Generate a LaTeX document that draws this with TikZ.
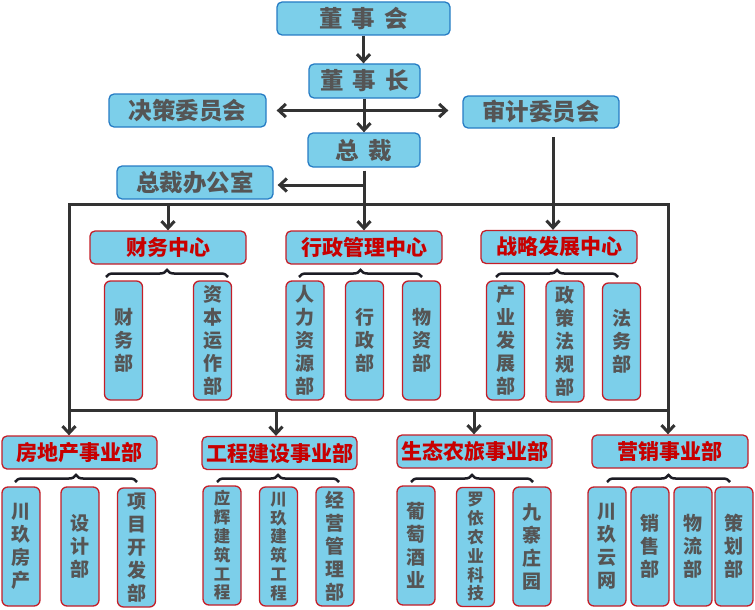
\documentclass[tikz,border=0pt]{standalone}
\usepackage{fontspec}
\newfontfamily\cjk{Noto Sans CJK SC}
\usetikzlibrary{arrows.meta,decorations.pathreplacing}
\definecolor{boxfill}{RGB}{124,207,234}
\definecolor{blueedge}{RGB}{38,124,196}
\definecolor{rededge}{RGB}{196,30,40}
\definecolor{redtext}{RGB}{200,0,0}
\definecolor{graytext}{RGB}{85,85,85}
\definecolor{linecol}{RGB}{51,51,51}
\definecolor{bracecol}{RGB}{28,28,36}
\begin{document}
\begin{tikzpicture}[x=1pt,y=-1pt,
  topbox/.style={draw=blueedge, fill=boxfill, line width=1.3pt, rounded corners=5pt,
    inner sep=0pt, text=graytext, minimum width=156pt, minimum height=33pt,
    font=\cjk\bfseries\fontsize{23.5}{26}\selectfont},
  hdr/.style={draw=rededge, fill=boxfill, line width=1.3pt, rounded corners=5pt,
    inner sep=0pt, text=redtext, minimum width=156pt, minimum height=33pt,
    font=\cjk\bfseries\fontsize{21}{24}\selectfont},
  vbox/.style={draw=rededge, fill=boxfill, line width=1.3pt, rounded corners=6pt,
    inner sep=0pt, text=graytext, minimum width=38pt, minimum height=119pt, align=center,
    font=\cjk\bfseries\fontsize{19}{23}\selectfont},
  vsmall/.style={vbox, font=\cjk\bfseries\fontsize{16.5}{18.8}\selectfont},
  conn/.style={draw=linecol, line width=3pt},
  arr/.style={conn, -{Straight Barb[length=7pt,width=13pt]}},
  arrboth/.style={conn, {Straight Barb[length=7pt,width=13pt]}-{Straight Barb[length=7pt,width=13pt]}},
  bracestyle/.style={draw=bracecol, line width=2.5pt, decorate,
    decoration={brace, amplitude=7pt}}
]
\useasboundingbox (0,0) rectangle (755,610);

% top level
\node[topbox, minimum width=173pt] (dsh) at (363.5,18.5) {董\hspace{9pt}事\hspace{9pt}会};
\node[topbox, minimum width=111pt, minimum height=34pt] (dsz) at (364.5,81) {董\hspace{9pt}事\hspace{9pt}长};
\node[topbox, minimum width=157pt] (jc) at (187.5,110.5) {决策委员会};
\node[topbox, minimum height=32pt] (sj) at (541,112) {审计委员会};
\node[topbox, minimum width=112pt, minimum height=34pt] (zc) at (364,150) {总\hspace{10pt}裁};
\node[topbox] (zcb) at (195,182.5) {总裁办公室};

% centre headers
\node[hdr] (cw) at (168,247.5) {财务中心};
\node[hdr] (xz) at (364,247.5) {行政管理中心};
\node[hdr] (zl) at (559,247) {战略发展中心};

% business headers
\node[hdr, minimum width=155pt] (fd) at (79.5,452.5) {房地产事业部};
\node[hdr, minimum width=155pt] (gc) at (279.5,453) {工程建设事业部};
\node[hdr, minimum width=155pt] (st) at (474.5,451.5) {生态农旅事业部};
\node[hdr] (yx) at (670,451.5) {营销事业部};

% centre departments
\node[vbox] (cwb) at (123.5,340.5) {财\\务\\部};
\node[vbox] (zbyz) at (212.5,340.5) {资\\本\\运\\作\\部};
\node[vbox] (rlzy) at (305,340.5) {人\\力\\资\\源\\部};
\node[vbox] (xzb) at (364.5,340.5) {行\\政\\部};
\node[vbox] (wzb) at (421.5,340.5) {物\\资\\部};
\node[vbox] (cyfz) at (505.5,340.5) {产\\业\\发\\展\\部};
\node[vbox, minimum height=121pt] (zcfg) at (565,341.5) {政\\策\\法\\规\\部};
\node[vbox, minimum height=117pt] (fwb) at (621.5,341.5) {法\\务\\部};

% business departments
\node[vbox] (cjfc) at (21,546.5) {川\\玖\\房\\产};
\node[vbox] (sjb) at (80,546.5) {设\\计\\部};
\node[vbox] (xmkf) at (136.5,547.5) {项\\目\\开\\发\\部};
\node[vsmall] (yhjz) at (222,545.5) {应\\辉\\建\\筑\\工\\程};
\node[vsmall] (cjjz) at (278.5,546.5) {川\\玖\\建\\筑\\工\\程};
\node[vbox] (jygl) at (335,546.5) {经\\营\\管\\理\\部};
\node[vbox] (ptjy) at (416,545.5) {葡\\萄\\酒\\业};
\node[vsmall] (lynk) at (475.5,547) {罗\\依\\农\\业\\科\\技};
\node[vbox] (jzzy) at (532,546.5) {九\\寨\\庄\\园};
\node[vbox] (cjyw) at (607,546.5) {川\\玖\\云\\网};
\node[vbox] (xsb) at (650,546.5) {销\\售\\部};
\node[vbox] (wlb) at (693,546.5) {物\\流\\部};
\node[vbox] (chb) at (734,546.5) {策\\划\\部};

% frame corners and branch points
\coordinate (rTL) at (69,204);
\coordinate (rTR) at (668,204);
\coordinate (rBL) at (69,410);
\coordinate (rBR) at (668,410);
\coordinate (bOff) at (364,185);
\coordinate (aud) at (553,137);
\coordinate (g1) at (276,410);
\coordinate (g2) at (474,410);

% connectors
\draw[arr] (dsh.south) -- (dsh.south |- dsz.north);
\draw[arr] (zc.north |- dsz.south) -- (zc.north);
\draw[arrboth, shorten <=10pt, shorten >=14pt] (jc.east) -- (jc.east -| sj.west);
\draw[arr, shorten <=3pt] (zc.south) -- (xz.north);
\draw[arr, shorten >=4pt] (bOff) -- (bOff -| zcb.east);
\draw[arr] (aud) -- (aud |- zl.north);
\draw[conn, line join=miter] (rBL) -- (rTL) -- (rTR) -- (rBR) -- cycle;
\draw[arr] (cw.north |- rTL) -- (cw.north);
\draw[arr] (rBL) -- (rBL |- fd.north);
\draw[arr] (rBR) -- (rBR |- yx.north);
\draw[arr] (g1) -- (g1 |- gc.north);
\draw[arr] (g2) -- (g2 |- st.north);

% braces
\draw[bracestyle] (106,277) -- (228,277);
\draw[bracestyle] (299,277) -- (422,277);
\draw[bracestyle] (496,277) -- (618,277);
\draw[bracestyle] (15,482) -- (137,482);
\draw[bracestyle] (217,482) -- (339,482);
\draw[bracestyle] (411,482) -- (533,482);
\draw[bracestyle] (607,482) -- (730,482);
\end{tikzpicture}
\end{document}
